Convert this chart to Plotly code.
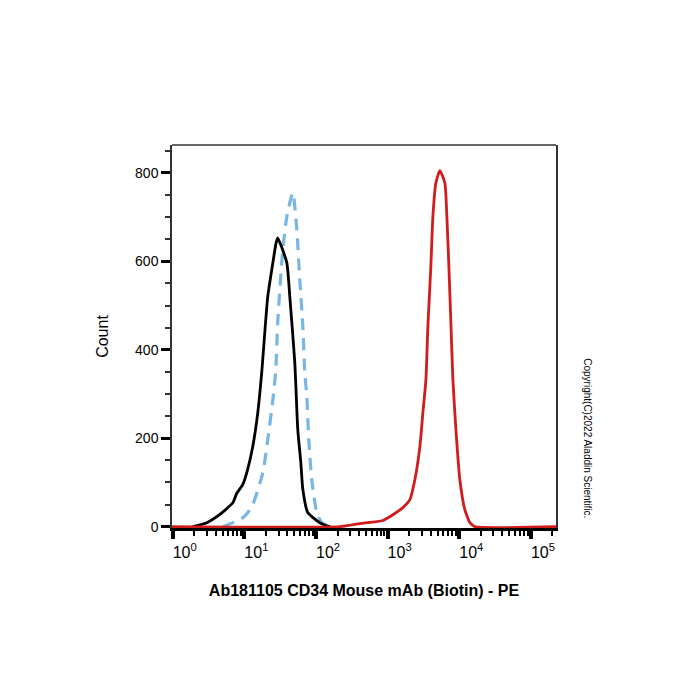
import plotly.graph_objects as go

# ---- data (fluorescence intensity, count) ----
black_x = [1.9, 3.0, 4.5, 6.9, 7.8, 9.5, 11.1, 13.1, 15.4, 17.5, 21.2, 25.0, 27.6, 29.2,
           39.1, 43.1, 50.6, 55.7, 61.4, 65.5, 76.7, 113, 141, 158]
black_y = [0, 9, 27, 54, 75, 95, 129, 181, 258, 350, 520, 597, 640, 653,
           597, 520, 371, 219, 145, 84, 32, 9, 2, 0]

blue_x = [5.0, 9.5, 12.7, 18.1, 21.2, 25.0, 27.5, 29.2, 34.4, 39.1, 47.4, 54.0, 59.4,
          65.5, 69.8, 74.5, 79.3, 87.3, 102.6, 120.5, 156]
blue_y = [0, 20, 45, 122, 197, 287, 355, 461, 626, 700, 755, 671, 558,
          452, 348, 294, 197, 106, 32, 9, 0]

red_x = [0.9, 215, 409, 857, 1183, 1629, 2042, 2399, 2818, 3105, 3420, 3639, 4009, 4276,
         4710, 5358, 6295, 6714, 7161, 7638, 8147, 8974, 10186, 11967, 14060, 16520, 250000]
red_y = [0, 0, 7, 14, 27, 43, 61, 106, 181, 258, 332, 450, 588, 700,
         777, 805, 777, 700, 588, 460, 332, 219, 106, 38, 9, 0, 0]

x_major = [1, 10, 100, 1000, 10000, 100000]
x_labels = ["10<sup>0</sup>", "10<sup>1</sup>", "10<sup>2</sup>", "10<sup>3</sup>",
            "10<sup>4</sup>", "10<sup>5</sup>"]
x_minor = [m * d for d in [1, 10, 100, 1000, 10000, 100000] for m in range(2, 10)]
y_major = [0, 200, 400, 600, 800]

x_title = "Ab181105 CD34 Mouse mAb (Biotin) - PE"
y_title = "Count"
copyright_text = "Copyright(C)2022 Aladdin Scientific."

FONT = "Liberation Sans, Arial, sans-serif"

fig = go.Figure()
fig.add_trace(go.Scatter(x=blue_x, y=blue_y, mode="lines",
                         line=dict(color="#78b6e6", width=3.2, dash="12px,8px", shape="spline", smoothing=0.6)))
fig.add_trace(go.Scatter(x=black_x, y=black_y, mode="lines",
                         line=dict(color="#000000", width=2.8, shape="spline", smoothing=0.5)))
fig.add_trace(go.Scatter(x=red_x, y=red_y, mode="lines",
                         line=dict(color="#d01c1c", width=2.8, shape="spline", smoothing=0.5)))

fig.update_layout(
    width=700, height=700,
    margin=dict(l=172, r=144, t=145, b=172),
    paper_bgcolor="white", plot_bgcolor="white",
    showlegend=False,
    font=dict(family=FONT, color="black"),
    xaxis=dict(
        type="log", range=[-0.01, 5.35],
        showline=True, linecolor="black", linewidth=3, mirror=False,
        showgrid=False, zeroline=False,
        ticks="outside", ticklen=8, tickwidth=3.5, tickcolor="black",
        tickmode="array", tickvals=x_major, ticktext=x_labels,
        ticklabelshift=12,
        tickfont=dict(size=16, family=FONT),
        minor=dict(ticks="outside", ticklen=5, tickwidth=1.5, tickcolor="black",
                   tickmode="array", tickvals=x_minor, showgrid=False),
        title=dict(text="<b>" + x_title + "</b>", font=dict(size=16, family=FONT), standoff=25),
    ),
    yaxis=dict(
        range=[-3, 863],
        showline=True, linecolor="#333333", linewidth=1.5, mirror=True,
        showgrid=False, zeroline=False,
        ticks="outside", ticklen=9, tickwidth=3, tickcolor="black",
        tickmode="array", tickvals=y_major,
        tickfont=dict(size=14, family=FONT),
        minor=dict(ticks="outside", ticklen=5, tickwidth=1.5, tickcolor="#333333", dtick=50, showgrid=False),
        title=dict(text=y_title, font=dict(size=16, family=FONT), standoff=22),
    ),
    shapes=[dict(type="line", xref="paper", yref="paper", x0=0, x1=1, y0=1, y1=1,
                 line=dict(color="#333333", width=1.5))],
    annotations=[dict(text=copyright_text, xref="paper", yref="paper", x=1.08, y=0.235,
                      xanchor="center", yanchor="middle",
                      textangle=90, showarrow=False, font=dict(size=10, family=FONT, color="black"))],
)

fig.write_html("out.html")
